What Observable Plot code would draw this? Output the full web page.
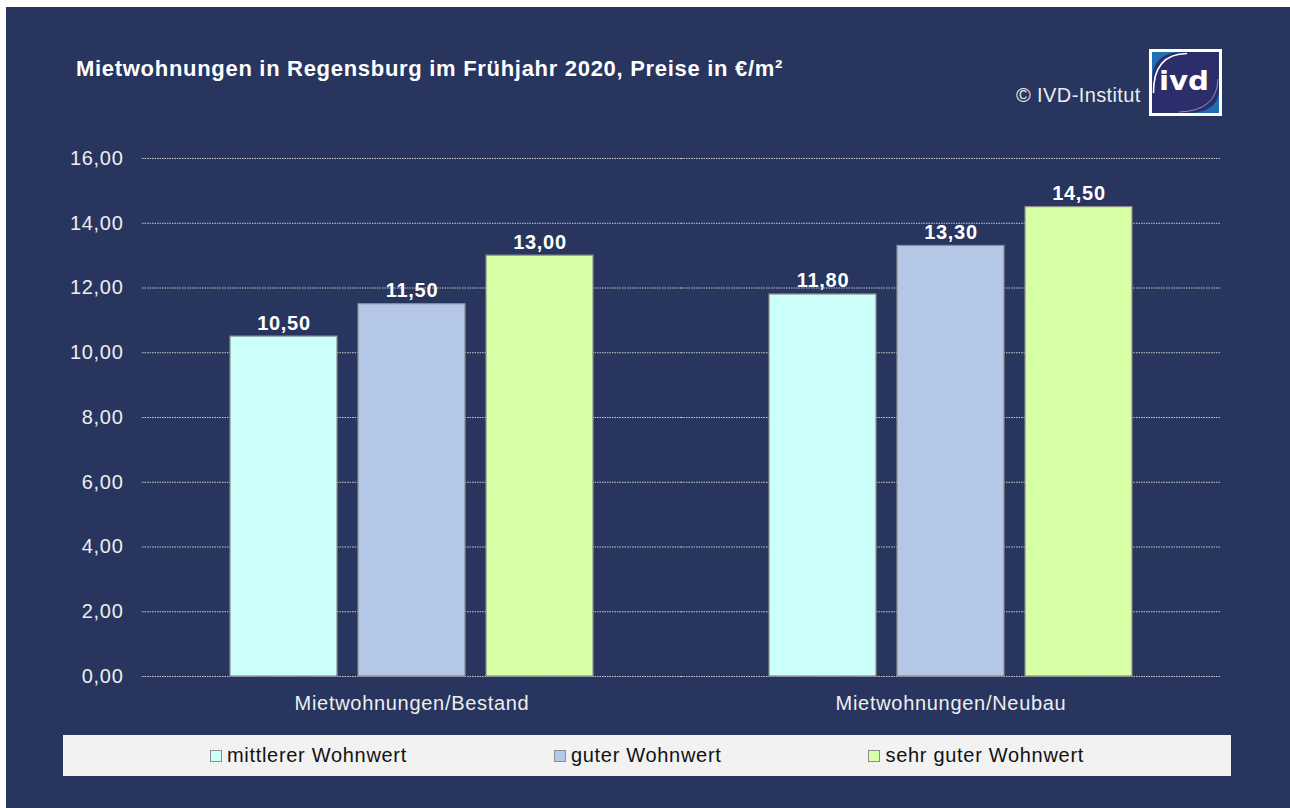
<!DOCTYPE html>
<html>
<head>
<meta charset="utf-8">
<script src="https://cdn.jsdelivr.net/npm/d3@7"></script>
<script src="https://cdn.jsdelivr.net/npm/@observablehq/plot@0.6"></script>
<style>
  html, body { margin: 0; padding: 0; background: #ffffff; }
  body { width: 1290px; height: 808px; position: relative; overflow: hidden; font-family: "Liberation Sans", Arial, sans-serif; }
  #bg { position: absolute; left: 6px; top: 7px; width: 1284px; height: 801px; background: #27355F; }
  #chart { position: absolute; left: 0; top: 0; }
  #title { position: absolute; left: 76px; top: 58px; font-size: 22px; line-height: 22px; font-weight: bold; color: #ffffff; letter-spacing: 0.7px; white-space: nowrap; }
  #copy { position: absolute; left: 1016px; top: 85px; font-size: 20px; line-height: 20px; color: #ececec; letter-spacing: 0.4px; white-space: nowrap; }
  #logo { position: absolute; left: 1149px; top: 49px; }
  #legend { position: absolute; left: 63px; top: 735px; width: 1168px; height: 41px; background: #F2F2F2; display: flex; align-items: center; justify-content: space-evenly; }
  .item { display: flex; align-items: center; font-size: 20px; color: #111111; letter-spacing: 0.7px; white-space: nowrap; }
  .sw { width: 10px; height: 10px; border: 1px solid #8c8c8c; margin-right: 5px; }
</style>
</head>
<body>
<div id="bg"></div>
<div id="chart"></div>
<div id="title">Mietwohnungen in Regensburg im Frühjahr 2020, Preise in €/m²</div>
<div id="copy">© IVD-Institut</div>
<svg id="logo" width="73" height="67" viewBox="0 0 73 67">
  <rect x="0" y="0" width="73" height="67" fill="#ffffff"/>
  <rect x="3" y="3" width="67" height="61" fill="#1F6DB3"/>
  <path d="M3,64 L3,32 Q3,3 34,3 L70,3 L70,40 Q70,64 38,64 Z" fill="#2B2E6A"/>
  <path d="M4.5,44 Q4,5 38,4.5" fill="none" stroke="#ffffff" stroke-width="1.6"/>
  <path d="M30,63 Q68,62 69,30" fill="none" stroke="#ffffff" stroke-width="0.8" opacity="0.6"/>
  <text x="10" y="41" font-family="DejaVu Sans, Liberation Sans, Arial" font-weight="bold" font-size="27" fill="#ffffff" textLength="50" lengthAdjust="spacingAndGlyphs">ivd</text>
</svg>
<div id="legend"></div>
<script>
const categories = ["Mietwohnungen/Bestand", "Mietwohnungen/Neubau"];
const series = ["mittlerer Wohnwert", "guter Wohnwert", "sehr guter Wohnwert"];
const bestandValues = [10.50, 11.50, 13.00];
const neubauValues = [11.80, 13.30, 14.50];
const seriesColors = ["#CCFFF9", "#B4C7E6", "#D6FFA6"];
const yTicks = [0, 2, 4, 6, 8, 10, 12, 14, 16];

const valuesByCategory = [bestandValues, neubauValues];
const data = [];
categories.forEach((c, i) => {
  series.forEach((s, j) => data.push({cat: c, series: s, value: valuesByCategory[i][j]}));
});

const fmt = v => v.toFixed(2).replace(".", ",");

const chart = Plot.plot({
  width: 1290,
  height: 730,
  marginLeft: 142,
  marginRight: 70,
  marginTop: 158,
  marginBottom: 54,
  style: {background: "transparent", color: "#eeeeee", fontFamily: "Liberation Sans, Arial, sans-serif", fontSize: "20px", letterSpacing: "0.7px"},
  fx: {domain: categories, padding: 0, label: null, tickSize: 0, tickPadding: 19, axis: "bottom"},
  x: {domain: series, paddingInner: 0.162, paddingOuter: 0.682, axis: null},
  y: {domain: [0, 16], ticks: yTicks, tickFormat: fmt, tickSize: 0, tickPadding: 19, label: null},
  color: {domain: series, range: seriesColors},
  marks: [
    Plot.ruleY(yTicks, {stroke: "#c9c9c9", strokeWidth: 1, strokeDasharray: "1.5,1"}),
    Plot.barY(data, {fx: "cat", x: "series", y: "value", fill: "series", stroke: "#8c8c8c", strokeWidth: 1.2}),
    Plot.text(data, {fx: "cat", x: "series", y: "value", text: d => fmt(d.value), dy: -7, lineAnchor: "bottom", fill: "#ffffff", fontWeight: "bold", fontSize: 20})
  ]
});
document.getElementById("chart").appendChild(chart);

const legend = document.getElementById("legend");
series.forEach((s, i) => {
  const item = document.createElement("div");
  item.className = "item";
  const sw = document.createElement("div");
  sw.className = "sw";
  sw.style.background = seriesColors[i];
  item.appendChild(sw);
  const t = document.createElement("span");
  t.textContent = s;
  item.appendChild(t);
  legend.appendChild(item);
});
</script>
</body>
</html>
